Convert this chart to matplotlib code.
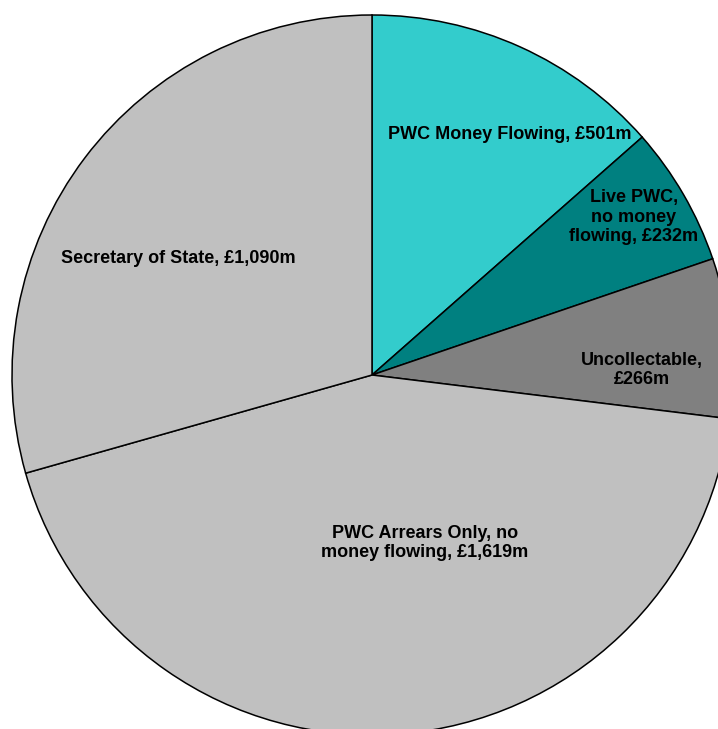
import matplotlib
matplotlib.use("Agg")
import matplotlib.pyplot as plt

categories = ["PWC Money Flowing", "Live PWC,\nno money\nflowing", "Uncollectable,",
              "PWC Arrears Only, no\nmoney flowing,", "Secretary of State,"]
values = [501, 232, 266, 1619, 1090]
value_labels = ["£501m", "£232m", "£266m", "£1,619m", "£1,090m"]
colors = ["#33CCCC", "#008080", "#808080", "#C0C0C0", "#C0C0C0"]

plt.rcParams['font.family'] = ['Liberation Sans', 'DejaVu Sans']

fig = plt.figure(figsize=(7.18, 7.29), dpi=100)
ax = fig.add_axes([0, 0, 1, 1])

cx, cy, r = 372, 729 - 375, 360
ax.pie(values, colors=colors, startangle=90, counterclock=False,
       center=(cx, cy), radius=r, frame=True,
       wedgeprops=dict(edgecolor='black', linewidth=1.1))
ax.set_xlim(0, 718)
ax.set_ylim(0, 729)
ax.set_aspect('equal')
ax.axis('off')

texts = [
    (categories[0] + ", " + value_labels[0], 510, 134),
    (categories[1] + ", " + value_labels[1], 634, 217),
    (categories[2] + "\n" + value_labels[2], 642, 370),
    (categories[3] + " " + value_labels[3], 425, 543),
    (categories[4] + " " + value_labels[4], 178, 258),
]
for t, x, y in texts:
    ax.text(x, 729 - y, t, ha='center', va='center', fontsize=13,
            fontweight='bold', linespacing=1.2, color='black')

fig.savefig("out.png", dpi=100)
